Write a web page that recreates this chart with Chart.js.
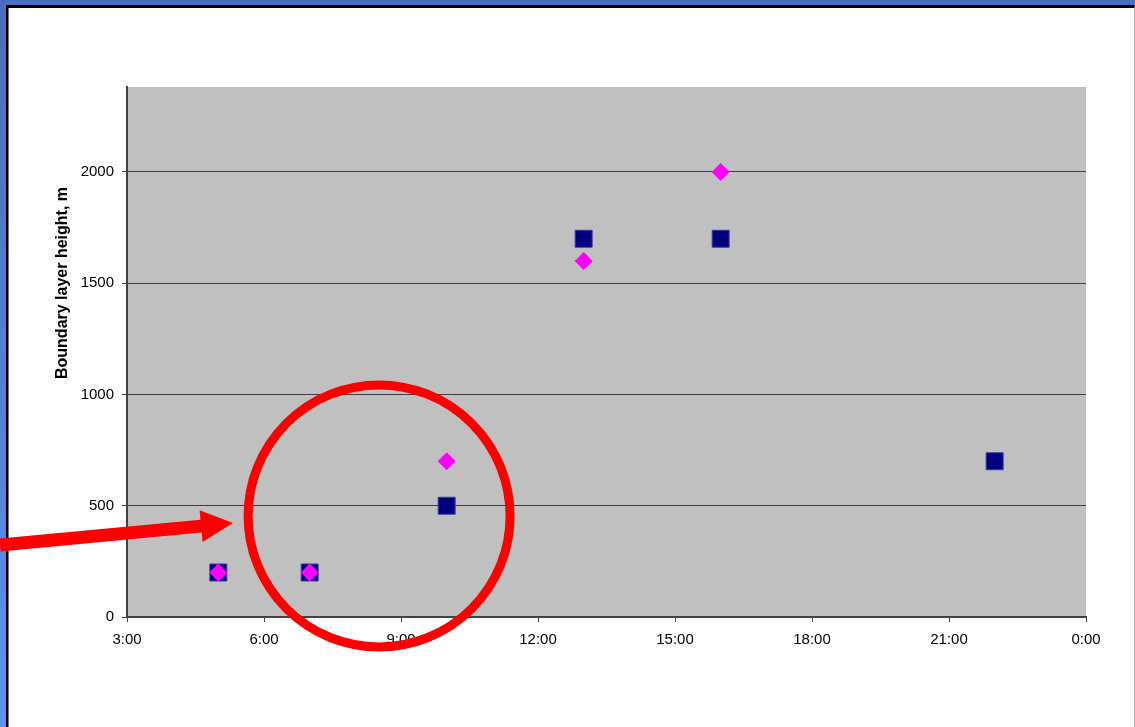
<!DOCTYPE html>
<html>
<head>
<meta charset="utf-8">
<script src="https://cdn.jsdelivr.net/npm/chart.js@4/dist/chart.umd.min.js"></script>
<style>
  html, body { margin: 0; padding: 0; background: #fff; }
  #frame {
    position: absolute; left: 0; top: 0; width: 1135px; height: 727px;
    background: linear-gradient(to bottom, #4a6fbf, #5c90f2);
    overflow: hidden;
  }
  #panel {
    position: absolute; left: 6px; top: 5px; right: 0; bottom: 0;
    box-sizing: border-box; background: #fff;
    border-left: 2px solid #000; border-top: 3px solid #000;
    border-right: 1px solid #a8a8a8;
    box-shadow: inset 1px 0 0 #7a7a7a;
  }
  #chart { position: absolute; left: 0; top: 0; }
</style>
</head>
<body>
<div id="frame"><div id="panel"></div></div>
<canvas id="chart" width="1135" height="727"></canvas>
<script>
// Time of day (hours) and boundary layer heights (m)
const squareHours = [5, 7, 10, 13, 16, 22];
const squareHeights = [200, 200, 500, 1700, 1700, 700];
const diamondHours = [5, 7, 10, 13, 16];
const diamondHeights = [200, 200, 700, 1600, 2000];

// Axis ranges and tick spacing
const xTickHours = [3, 6, 9, 12, 15, 18, 21, 24];
const yTickValues = [0, 500, 1000, 1500, 2000];

const yTitle = 'Boundary layer height, m';

// Highlight ring and pointer, placed in axis units
const ring = { hour: 8.52, height: 454, radius: 131, width: 9 };
const pointer = { tipHour: 5.32, tipHeight: 422, tailX: 0, tailY: 545 };

const toPoints = (xs, ys) => xs.map((x, i) => ({ x: x, y: ys[i] }));

const plotBackground = {
  id: 'plotBackground',
  beforeDraw(chart) {
    const { ctx, chartArea: a } = chart;
    ctx.save();
    ctx.fillStyle = '#c0c0c0';
    ctx.fillRect(a.left, a.top, a.right - a.left, a.bottom - a.top);
    ctx.restore();
  }
};

const sideTitle = {
  id: 'sideTitle',
  afterDraw(chart) {
    const { ctx } = chart;
    ctx.save();
    ctx.translate(63, 283);
    ctx.rotate(-Math.PI / 2);
    ctx.font = 'bold 16px "Liberation Sans", Arial, sans-serif';
    ctx.fillStyle = '#000';
    ctx.textAlign = 'center';
    ctx.textBaseline = 'middle';
    ctx.fillText(yTitle, 0, 0);
    ctx.restore();
  }
};

const annotations = {
  id: 'annotations',
  afterDraw(chart) {
    const { ctx, scales } = chart;
    const x = scales.x, y = scales.y;
    ctx.save();
    // ring
    ctx.strokeStyle = '#ff0000';
    ctx.lineWidth = ring.width;
    ctx.beginPath();
    ctx.arc(x.getPixelForValue(ring.hour), y.getPixelForValue(ring.height), ring.radius, 0, Math.PI * 2);
    ctx.stroke();
    // pointer
    const tx = x.getPixelForValue(pointer.tipHour);
    const ty = y.getPixelForValue(pointer.tipHeight);
    const ang = Math.atan2(ty - pointer.tailY, tx - pointer.tailX);
    const headLen = 32, headHalf = 16, shaftHalf = 6.5;
    const bx = tx - headLen * Math.cos(ang), by = ty - headLen * Math.sin(ang);
    const nx = -Math.sin(ang), ny = Math.cos(ang);
    ctx.fillStyle = '#ff0000';
    ctx.beginPath();
    ctx.moveTo(pointer.tailX + nx * shaftHalf, pointer.tailY + ny * shaftHalf);
    ctx.lineTo(bx + nx * shaftHalf, by + ny * shaftHalf);
    ctx.lineTo(bx + nx * headHalf, by + ny * headHalf);
    ctx.lineTo(tx, ty);
    ctx.lineTo(bx - nx * headHalf, by - ny * headHalf);
    ctx.lineTo(bx - nx * shaftHalf, by - ny * shaftHalf);
    ctx.lineTo(pointer.tailX - nx * shaftHalf, pointer.tailY - ny * shaftHalf);
    ctx.closePath();
    ctx.fill();
    ctx.restore();
  }
};

const tickFont = { family: '"Liberation Sans", Arial, sans-serif', size: 15 };

new Chart(document.getElementById('chart'), {
  type: 'scatter',
  data: {
    datasets: [
      {
        label: 'Series 1',
        data: toPoints(squareHours, squareHeights),
        pointStyle: 'rect',
        pointRadius: 12,
        pointHoverRadius: 12,
        backgroundColor: '#000080',
        borderColor: '#3c3c9c',
        borderWidth: 1,
        order: 2
      },
      {
        label: 'Series 2',
        data: toPoints(diamondHours, diamondHeights),
        pointStyle: 'rectRot',
        pointRadius: 9,
        pointHoverRadius: 9,
        backgroundColor: '#ff00ff',
        borderColor: '#ff00ff',
        borderWidth: 0,
        order: 1
      }
    ]
  },
  options: {
    responsive: false,
    animation: false,
    events: [],
    layout: { padding: { left: 67, right: 49, top: 87, bottom: 70 } },
    plugins: { legend: { display: false }, tooltip: { enabled: false } },
    scales: {
      x: {
        type: 'linear',
        min: xTickHours[0],
        max: xTickHours[xTickHours.length - 1],
        afterFit(s) { s.height = 40; },
        afterBuildTicks(s) { s.ticks = xTickHours.map(v => ({ value: v })); },
        ticks: {
          font: tickFont, color: '#000', padding: 9, maxRotation: 0,
          callback: v => (v % 24) + ':00'
        },
        grid: { drawOnChartArea: false, drawTicks: true, tickLength: 5, color: '#404040', lineWidth: 1 },
        border: { display: true, color: '#404040', width: 2 }
      },
      y: {
        type: 'linear',
        min: 0,
        max: 2382,
        afterFit(s) { s.width = 60; },
        afterBuildTicks(s) { s.ticks = yTickValues.map(v => ({ value: v })); },
        ticks: { font: tickFont, color: '#000', padding: 8, callback: v => String(v) },
        grid: { drawOnChartArea: true, drawTicks: true, tickLength: 5, color: '#404040', lineWidth: 1 },
        border: { display: true, color: '#404040', width: 2 }
      }
    }
  },
  plugins: [plotBackground, sideTitle, annotations]
});
</script>
</body>
</html>
